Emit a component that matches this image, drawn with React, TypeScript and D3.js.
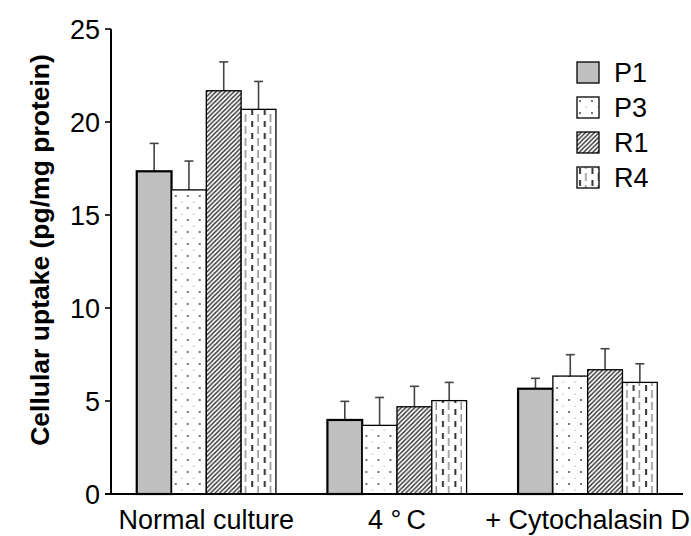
import React from 'react';
import * as d3 from 'd3';

const categories = ['Normal culture', '4 °\u2009C', '+ Cytochalasin D'];
const seriesNames = ['P1', 'P3', 'R1', 'R4'];

// mean values per series (one per category)
const p1 = [17.35, 3.98, 5.66];
const p3 = [16.35, 3.69, 6.34];
const r1 = [21.68, 4.69, 6.68];
const r4 = [20.68, 5.02, 6.0];

// upper error (SD)
const p1Err = [1.5, 1.0, 0.56];
const p3Err = [1.55, 1.5, 1.15];
const r1Err = [1.55, 1.1, 1.13];
const r4Err = [1.5, 0.98, 1.0];

const yTicks = [0, 5, 10, 15, 20, 25];

const values = [p1, p3, r1, r4];
const errors = [p1Err, p3Err, r1Err, r4Err];
const fills = ['#c0c0c0', 'url(#dots)', 'url(#hatch)', 'url(#dashes)'];

const W = 691;
const H = 536;
const font = 'Arial, "Liberation Sans", Helvetica, sans-serif';

const App = () => {
  const x0 = d3.scaleBand().domain(categories).range([111, 683]).paddingInner(0.27).paddingOuter(0.135);
  const x1 = d3.scaleBand().domain(seriesNames).range([0, x0.bandwidth()]);
  const y = d3.scaleLinear().domain([0, 25]).range([494, 29]);

  return (
    <svg width={W} height={H} style={{ position: 'absolute', left: 0, top: 0, background: '#fff' }} fontFamily={font}>
      <defs>
        <pattern id="dots" patternUnits="userSpaceOnUse" width="12" height="12">
          <rect width="12" height="12" fill="#fff" />
          <circle cx="3" cy="4" r="0.9" fill="#333" />
          <circle cx="9" cy="10" r="0.6" fill="#777" />
        </pattern>
        <pattern id="hatch" patternUnits="userSpaceOnUse" width="4.5" height="4.5">
          <rect width="4.5" height="4.5" fill="#fff" />
          <path d="M-1,1 l2,-2 M0,4.5 l4.5,-4.5 M3.5,5.5 l2,-2" stroke="#222" strokeWidth="1.3" />
        </pattern>
        <pattern id="dashes" patternUnits="userSpaceOnUse" width="12.5" height="12">
          <rect width="12.5" height="12" fill="#fff" />
          <rect x="2" y="1" width="2" height="6" fill="#333" />
          <rect x="8.3" y="6" width="1" height="7" fill="#555" />
          <rect x="8.3" y="-1" width="1" height="3" fill="#555" />
        </pattern>
      </defs>

      {/* bars */}
      {categories.map((c, ci) => (
        <g key={c} transform={`translate(${x0(c)},0)`}>
          {seriesNames.map((s, si) => {
            const v = values[si][ci];
            const e = errors[si][ci];
            const bx = x1(s)!;
            const cx = bx + x1.bandwidth() / 2;
            return (
              <g key={s}>
                <line x1={cx} x2={cx} y1={y(v)} y2={y(v + e)} stroke="#444" strokeWidth={1.6} />
                <line x1={cx - 4.5} x2={cx + 4.5} y1={y(v + e)} y2={y(v + e)} stroke="#444" strokeWidth={1.6} />
                <rect
                  x={bx}
                  y={y(v)}
                  width={x1.bandwidth()}
                  height={y(0) - y(v)}
                  fill={fills[si]}
                  stroke="#000"
                  strokeWidth={si === 0 ? 2.2 : 1.3}
                />
              </g>
            );
          })}
        </g>
      ))}

      {/* y axis */}
      <line x1={111} x2={111} y1={y(25)} y2={y(0)} stroke="#000" strokeWidth={2} />
      {yTicks.map(t => (
        <g key={t}>
          <line x1={105} x2={111} y1={y(t)} y2={y(t)} stroke="#000" strokeWidth={1.6} />
          <text x={100} y={y(t)} dy="0.36em" textAnchor="end" fontSize={27} fill="#000">{t}</text>
        </g>
      ))}

      {/* x axis */}
      <line x1={105} x2={683} y1={y(0)} y2={y(0)} stroke="#000" strokeWidth={2.2} />
      {categories.map(c => (
        <text key={c} x={x0(c)! + x0.bandwidth() / 2} y={529} textAnchor="middle" fontSize={27} fill="#000">{c}</text>
      ))}

      {/* y title */}
      <text transform={`translate(49,250) rotate(-90)`} textAnchor="middle" fontSize={26.5} fontWeight="bold" fill="#000">
        Cellular uptake (pg/mg protein)
      </text>

      {/* legend */}
      {seriesNames.map((s, i) => (
        <g key={s} transform={`translate(577,${62 + i * 35})`}>
          <rect width={22} height={21} fill={fills[i]} stroke="#000" strokeWidth={1.3} />
          <text x={37} y={10.5} dy="0.36em" fontSize={27} fill="#000">{s}</text>
        </g>
      ))}
    </svg>
  );
};

export default App;
